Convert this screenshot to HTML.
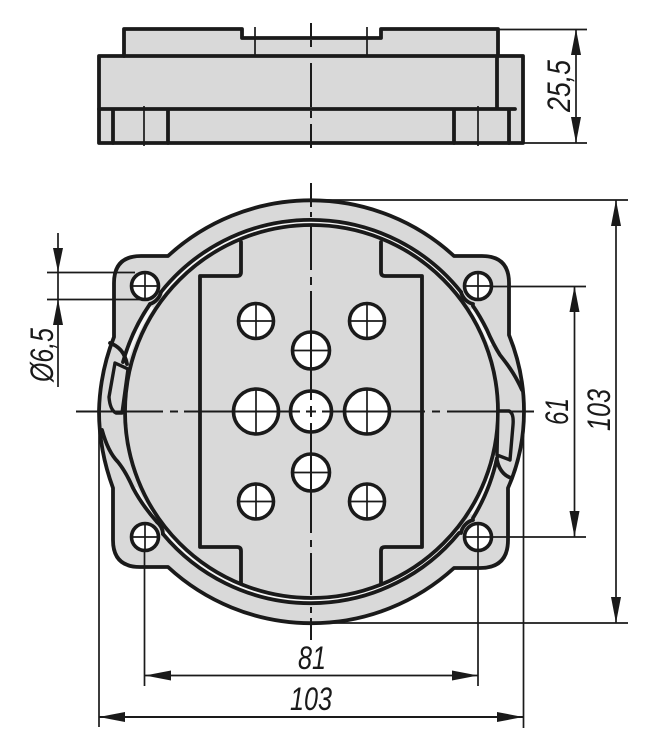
<!DOCTYPE html>
<html><head><meta charset="utf-8"><style>
html,body{margin:0;padding:0;background:#fff}
svg{display:block}
text{font-family:"Liberation Sans",sans-serif;font-style:italic;font-size:32px;fill:#1a1a1a}
.t{stroke:#1a1a1a;stroke-width:1.7;fill:none}
.k{stroke:#1a1a1a;stroke-width:3.8;fill:none;stroke-linejoin:round;stroke-linecap:round}
.h{stroke:#1a1a1a;stroke-width:3.6;fill:#fff}
.a{fill:#1a1a1a;stroke:none}
.c{stroke:#1a1a1a;stroke-width:2;fill:none}
.w{stroke:#f6f6f6;stroke-width:4;fill:none}
</style></head><body>
<svg width="652" height="750" viewBox="0 0 652 750" xmlns="http://www.w3.org/2000/svg">
<!-- top view -->
<path d="M124 29H242V38H381V29H498V56H523V143H99V56H124Z" fill="#d9d9d9"/>
<path class="k" d="M124 56V29H242V38H381V29H498V56"/>
<path class="k" d="M99 56H523V143H99Z"/>
<path class="k" d="M99 109H515M497 56V109M113 109V143M168 109V143M454 109V143M509 109V143"/>
<path class="t" d="M144 106V146M478 106V146M255 27V56M367 27V56"/>
<path class="c" d="M311 23V37M311 40V47M311 63V107M311 111V118M311 124V148"/>
<!-- dim 25,5 -->
<path class="t" d="M498 29.500H587M523 143H587M576 29V143"/>
<polygon class="a" points="576,29 581,55 571,55"/>
<polygon class="a" points="576,143 581,117 571,117"/>
<text transform="translate(570,112) rotate(-90)" textLength="52" lengthAdjust="spacingAndGlyphs">25,5</text>

<!-- flange -->
<path d="M168 256A211.500 211.500 0 0 1 454 256H482Q509 256 509 283V335Q524 372 524 411Q524 452 508 488V540Q508 568 480 568H454A211.500 211.500 0 0 1 168 567H140Q113 567 113 540V488Q99 450 99 411Q100 372 114 337V283Q114 256 141 256Z" fill="#d9d9d9" stroke="#1a1a1a" stroke-width="3.8" stroke-linejoin="round"/>
<!-- white gap between ring lines -->
<path class="w" d="M163 295A189.500 189.500 0 0 1 460 295"/>
<path class="w" d="M152 307A189.500 189.500 0 0 0 127 358"/>
<path class="w" d="M472 309Q482 325 491 345"/>
<path class="w" d="M471 514Q485 490 494 462"/>
<path class="w" d="M459 531A189.500 189.500 0 0 1 165 532"/>
<path class="w" d="M153 516Q142 503 135 488"/>
<!-- ring lines -->
<path class="k" d="M161 292A192 192 0 0 1 461 292"/>
<path class="k" d="M150 304A194 194 0 0 0 123 362"/>
<path class="k" d="M473 306Q480 316 487 330Q493 344 500 355Q508 365 513 373Q518 381 522 390"/>
<path class="k" d="M473 518A193 193 0 0 0 497 458"/>
<path class="k" d="M459 533A192 192 0 0 1 163 534"/>
<path class="k" d="M102 430Q108 452 118 462Q126 472 133 488Q142 505 157 522"/>
<!-- arcs hugging mounting holes -->
<path class="k" d="M161 292A16.500 16.500 0 0 1 150 304"/>
<path class="k" d="M461 292A16.500 16.500 0 0 0 473 304"/>
<path class="k" d="M473 520A16.500 16.500 0 0 0 461 533"/>
<path class="k" d="M157 522A16.500 16.500 0 0 1 163 534"/>
<!-- inner circle -->
<circle cx="311.500" cy="411.500" r="186.500" fill="#d9d9d9" stroke="#1a1a1a" stroke-width="3.8"/>
<!-- left tab and hook -->
<path class="k" d="M110 343Q124 348 127 364"/>
<path d="M115 363L128 369L122 413H116Q110 410 109 397Z" fill="#d9d9d9" stroke="#1a1a1a" stroke-width="3.4" stroke-linejoin="round"/>
<!-- right tab and hook -->
<path d="M498 411H509Q514 413 513 425L510 460L497 455Z" fill="#d9d9d9" stroke="#1a1a1a" stroke-width="3.4" stroke-linejoin="round"/>
<path class="k" d="M497 460Q500 474 511 478"/>
<!-- plate -->
<path class="k" d="M241 242V272Q241 276 237 276H200V547H237Q241 547 241 551V583"/>
<path class="k" d="M381 242V272Q381 276 385 276H422V547H385Q381 547 381 551V583"/>

<!-- mounting holes -->
<circle class="h" cx="145" cy="286" r="13.500"/><circle class="h" cx="478" cy="286" r="13.500"/>
<circle class="h" cx="145" cy="537" r="13.500"/><circle class="h" cx="478" cy="537" r="13.500"/>
<!-- holes -->
<circle class="h" cx="256" cy="321" r="17.500"/><circle class="h" cx="367" cy="321" r="17.500"/>
<circle class="h" cx="256" cy="501.500" r="17.500"/><circle class="h" cx="367" cy="501.500" r="17.500"/>
<circle class="h" cx="311" cy="350.500" r="18.500"/><circle class="h" cx="311" cy="472.500" r="18.500"/>
<circle class="h" cx="256" cy="411.500" r="22.500"/><circle class="h" cx="367" cy="411.500" r="22.500"/>
<circle class="h" cx="311" cy="411.500" r="20.500"/>
<!-- crosshairs -->
<path class="t" d="M133 286H158M145 274V299M466 286H491M478 274V299M133 537H158M145 525V550M466 537H491M478 525V550"/>
<path class="t" d="M239 321H273M256 304V338M350 321H384M367 304V338M239 501.500H273M256 484V519M350 501.500H384M367 484V519"/>
<path class="t" d="M293 350.500H329M293 472.500H329M256 389V434M367 389V434"/>
<!-- centre lines -->
<path class="c" d="M76 411.500H163M170 411.500H178M184 411.500H300M306 411.500H316M322 411.500H425M432 411.500H440M447 411.500H534"/>
<path class="c" d="M311 183V207M311 212V217M311 225V270M311 277V285M311 291V400M311 406V417M311 423V533M311 540V547M311 553V595M311 607V613M311 618V640"/>

<!-- dim 6,5 -->
<path class="t" d="M47 272.500H135M47 299.500H145M58 233V387"/>
<polygon class="a" points="58,272 53,248 63,248"/>
<polygon class="a" points="58,299 53,325 63,325"/>
<text transform="translate(53,382) rotate(-90)" textLength="54" lengthAdjust="spacingAndGlyphs">Ø6,5</text>
<!-- dim 61 -->
<path class="t" d="M492 286.500H586M492 537H586M574.500 286V537"/>
<polygon class="a" points="574.500,286 579.500,312 569.500,312"/>
<polygon class="a" points="574.500,537 579.500,511 569.500,511"/>
<text transform="translate(568,425) rotate(-90)" textLength="27" lengthAdjust="spacingAndGlyphs">61</text>
<!-- dim 103 right -->
<path class="t" d="M311 200H628M311 623H628M616 200V623"/>
<polygon class="a" points="616,200 621,226 611,226"/>
<polygon class="a" points="616,623 621,597 611,597"/>
<text transform="translate(610,431) rotate(-90)" textLength="42" lengthAdjust="spacingAndGlyphs">103</text>
<!-- dim 81 -->
<path class="t" d="M144.500 551V686M478 551V686M145 675.500H478"/>
<polygon class="a" points="145,675.500 171,670.500 171,680.500"/>
<polygon class="a" points="478,675.500 452,670.500 452,680.500"/>
<text x="298" y="669" textLength="28" lengthAdjust="spacingAndGlyphs">81</text>
<!-- dim 103 bottom -->
<path class="t" d="M99 420V727M523.500 420V728"/>
<path d="M99 717H523" stroke="#1a1a1a" stroke-width="2" fill="none"/>
<polygon class="a" points="99,717 125,712 125,722"/>
<polygon class="a" points="523,717 497,712 497,722"/>
<text x="290" y="710" textLength="42" lengthAdjust="spacingAndGlyphs">103</text>
</svg>
</body></html>
